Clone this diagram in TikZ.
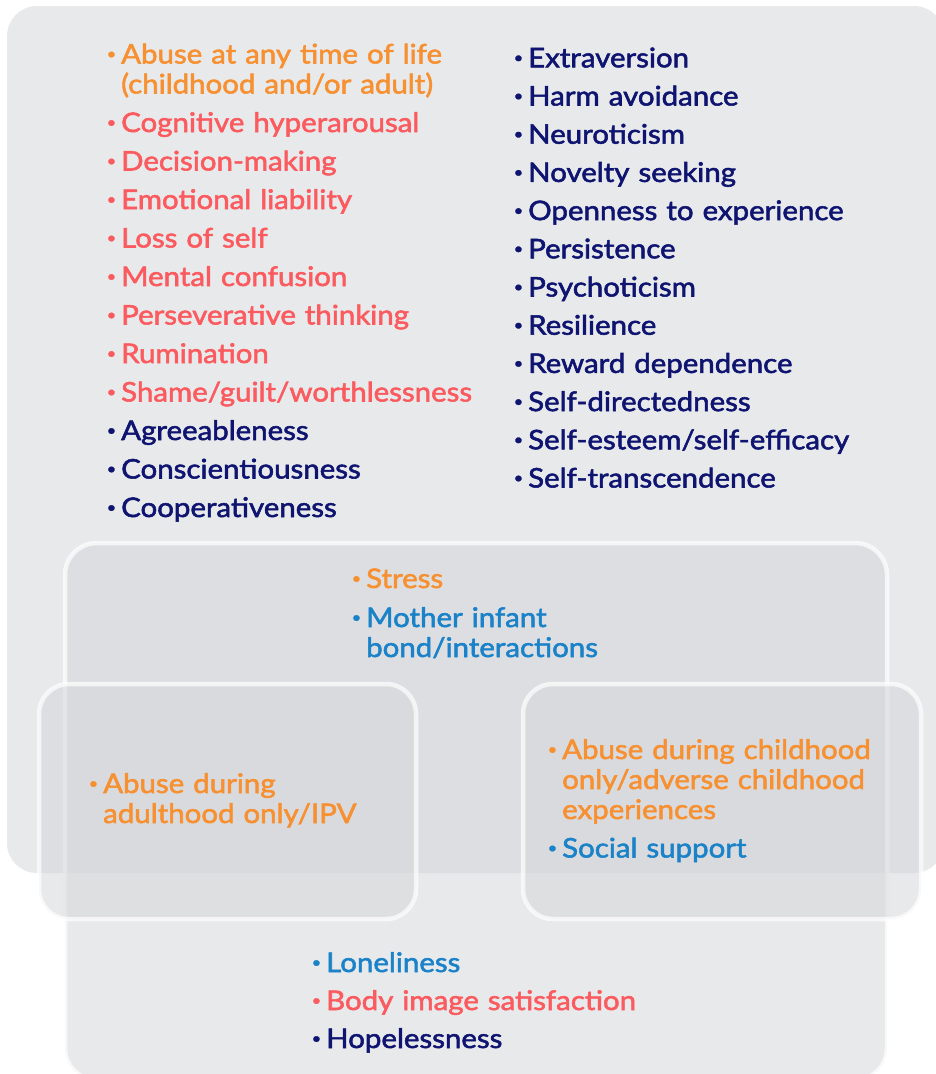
\documentclass[tikz,border=0pt]{standalone}
\usepackage{fontspec}
\setmainfont{Lato}[FakeBold=2,FakeStretch=1.09]
\usepackage{xcolor}
\usetikzlibrary{positioning}

\definecolor{panelgrey}{HTML}{E8E9EB}
\definecolor{innergrey}{HTML}{D6D7DA}
\definecolor{riskorange}{HTML}{F79031}
\definecolor{riskred}{HTML}{FB5A5E}
\definecolor{traitnavy}{HTML}{0E1470}
\definecolor{socialblue}{HTML}{1A82C8}

\newcommand{\itm}[2]{\textcolor{#1}{\llap{\raisebox{4.5pt}{\fontsize{15}{15}\selectfont\textbullet}\hspace{5pt}}#2}}

\begin{document}
\begin{tikzpicture}[x=1pt,y=-1pt,
    innerbox/.style={fill=innergrey,fill opacity=0.56,draw=white,draw opacity=0.7,line width=4.5pt,rounded corners=32pt},
    listtext/.style={anchor=base west,inner sep=0pt,text width=#1,align=left,font=\fontsize{27}{30}\selectfont}]
    \useasboundingbox (0,0) rectangle (936,1074);
    \fill[panelgrey,rounded corners=30pt] (7,6) rectangle (944,873);
    \draw[innerbox] (65,543) rectangle (887,1080);
    \draw[innerbox,rounded corners=30pt] (39,684) rectangle (416,919);
    \draw[innerbox,rounded corners=30pt] (523,684) rectangle (921,919);

    % risk factors, left column
    \node[listtext=380pt] (riskList) at (121,63.5) {%
        \itm{riskorange}{Abuse at any time of life\\(childhood and/or adult)}\\[8.5pt]
        \itm{riskred}{Cognitive hyperarousal}\\[8.5pt]
        \itm{riskred}{Decision-making}\\[8.5pt]
        \itm{riskred}{Emotional liability}\\[8.5pt]
        \itm{riskred}{Loss of self}\\[8.5pt]
        \itm{riskred}{Mental confusion}\\[8.5pt]
        \itm{riskred}{Perseverative thinking}\\[8.5pt]
        \itm{riskred}{Rumination}\\[8.5pt]
        \itm{riskred}{Shame/guilt/worthlessness}\\[8.5pt]
        \itm{traitnavy}{Agreeableness}\\[8.5pt]
        \itm{traitnavy}{Conscientiousness}\\[8.5pt]
        \itm{traitnavy}{Cooperativeness}};
    % personality traits, right column
    \node[listtext=380pt] (traitList) at (528,67.3) {%
        \itm{traitnavy}{Extraversion}\\[8.2pt]
        \itm{traitnavy}{Harm avoidance}\\[8.2pt]
        \itm{traitnavy}{Neuroticism}\\[8.2pt]
        \itm{traitnavy}{Novelty seeking}\\[8.2pt]
        \itm{traitnavy}{Openness to experience}\\[8.2pt]
        \itm{traitnavy}{Persistence}\\[8.2pt]
        \itm{traitnavy}{Psychoticism}\\[8.2pt]
        \itm{traitnavy}{Resilience}\\[8.2pt]
        \itm{traitnavy}{Reward dependence}\\[8.2pt]
        \itm{traitnavy}{Self-directedness}\\[8.2pt]
        \itm{traitnavy}{Self-esteem/self-efficacy}\\[8.2pt]
        \itm{traitnavy}{Self-transcendence}};

    \node[listtext=320pt] (midList) at (366,588) {%
        \itm{riskorange}{Stress}\\[9pt]
        \itm{socialblue}{Mother infant\\bond/interactions}};
    \node[listtext=300pt] (adultList) at (103,793) {%
        \itm{riskorange}{Abuse during\\adulthood only/IPV}};
    \node[listtext=360pt] (childList) at (562,759) {%
        \itm{riskorange}{Abuse during childhood\\only/adverse childhood\\experiences}\\[8.5pt]
        \itm{socialblue}{Social support}};
    \node[listtext=400pt] (bottomList) at (326,972) {%
        \itm{socialblue}{Loneliness}\\[8pt]
        \itm{riskred}{Body image satisfaction}\\[8pt]
        \itm{traitnavy}{Hopelessness}};
\end{tikzpicture}
\end{document}
